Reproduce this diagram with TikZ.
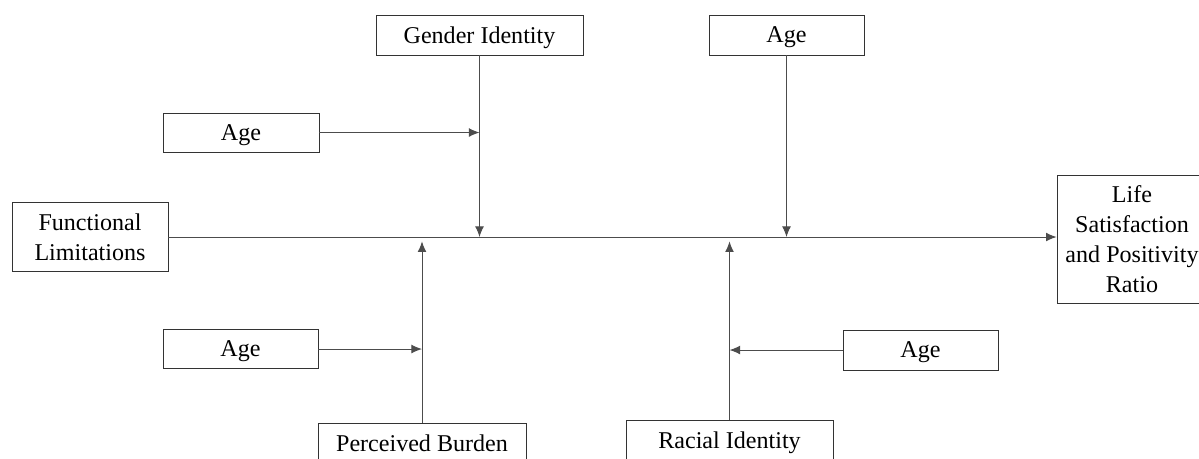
\documentclass[tikz,border=0pt]{standalone}
\usepackage{fontspec}
\setmainfont{Liberation Serif}
\usepackage{tikz}
\usetikzlibrary{arrows.meta}

\tikzset{
  varbox/.style={draw=black!80, line width=0.5pt, align=center, inner sep=0pt,
    text depth=0pt, font=\fontsize{13.7}{17}\selectfont},
  link/.style={draw=black!70, line width=0.55pt, -{Latex[length=6pt,width=5pt]}},
}

\begin{document}
\begin{tikzpicture}[x=0.02cm, y=-0.02cm]
\useasboundingbox (0,0) rectangle (1199,458);

% outcome path
\node[varbox, minimum width=156*0.02cm, minimum height=69*0.02cm] (func) at (90,237) {Functional\\Limitations};
\node[varbox, minimum width=150*0.02cm, minimum height=128*0.02cm] (life) at (1132,239) {Life\\Satisfaction\\and Positivity\\Ratio};

% moderators above
\node[varbox, minimum width=207*0.02cm, minimum height=40*0.02cm] (gender) at (479.5,35) {Gender Identity};
\node[varbox, minimum width=155*0.02cm, minimum height=40*0.02cm] (agetop) at (786.5,35) {Age};
\node[varbox, minimum width=156*0.02cm, minimum height=39*0.02cm] (ageleft) at (241,132.5) {Age};

% moderators below
\node[varbox, minimum width=208*0.02cm, minimum height=40*0.02cm] (burden) at (422,443) {Perceived Burden};
\node[varbox, minimum width=207*0.02cm, minimum height=40*0.02cm] (racial) at (729.5,440) {Racial Identity};
\node[varbox, minimum width=155*0.02cm, minimum height=39*0.02cm] (agelow) at (240.5,349) {Age};
\node[varbox, minimum width=155*0.02cm, minimum height=40*0.02cm] (ageright) at (920.5,350) {Age};

\draw[link] (func.east) -- (life.west |- func.east);

\draw[link] (gender.south) -- (gender.south |- func.east);
\draw[link] (agetop.south) -- (agetop.south |- func.east);
\draw[link] (ageleft.east) -- (ageleft.east -| gender.south);

\draw[link, shorten >=2.5pt] (burden.north) -- (burden.north |- func.east);
\draw[link, shorten >=2.5pt] (racial.north) -- (racial.north |- func.east);
\draw[link] (agelow.east) -- (agelow.east -| burden.north);
\draw[link] (ageright.west) -- (ageright.west -| racial.north);

\end{tikzpicture}
\end{document}
